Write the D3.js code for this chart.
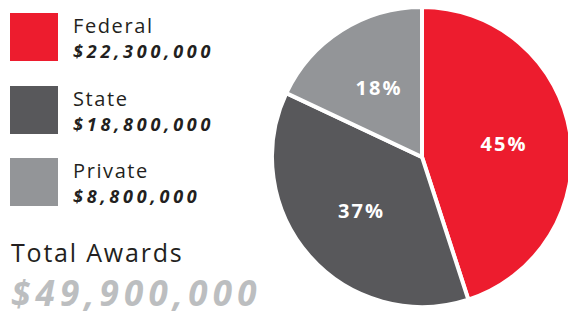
<!DOCTYPE html>
<html><head><meta charset="utf-8">
<script src="https://cdn.jsdelivr.net/npm/d3@7"></script>
<style>body{margin:0;background:#fff}svg{display:block}</style>
</head><body>
<script>
const categories = ["Federal", "State", "Private"];
const amountLabels = ["$22,300,000", "$18,800,000", "$8,800,000"];
const percents = [45, 37, 18];
const percentLabels = ["45%", "37%", "18%"];
const colors = ["#ED1C2E", "#58585B", "#939598"];
const totalTitle = "Total Awards";
const totalLabel = "$49,900,000";

const W = 568, H = 315;
const svg = d3.select("body").append("svg").attr("width", W).attr("height", H);
const font = "'Open Sans', sans-serif";

// Legend
const leg = svg.append("g");
const rowY = d3.scaleOrdinal().domain(categories).range([13, 86, 158]);
categories.forEach((c, i) => {
  const y = rowY(c);
  leg.append("rect").attr("x", 10).attr("y", y).attr("width", 48).attr("height", 48).attr("fill", colors[i]);
  leg.append("text").attr("x", 73).attr("y", y + 20).text(c)
    .attr("font-family", font).attr("font-size", 20).attr("letter-spacing", 1.6).attr("fill", "#231F20");
  leg.append("text").attr("x", 73).attr("y", y + 45).text(amountLabels[i])
    .attr("font-family", font).attr("font-size", 18).attr("font-weight", 700).attr("font-style", "italic")
    .attr("letter-spacing", 3.8).attr("fill", "#231F20");
});
svg.append("text").attr("x", 11).attr("y", 262).text(totalTitle)
  .attr("font-family", font).attr("font-size", 25).attr("letter-spacing", 1.8).attr("fill", "#231F20");
svg.append("text").attr("x", 11).attr("y", 306).text(totalLabel)
  .attr("font-family", font).attr("font-size", 35).attr("font-weight", 700).attr("font-style", "italic")
  .attr("letter-spacing", 5.2).attr("fill", "#BCBEC0");

// Pie
const cx = 422, cy = 157, R = 150;
const pie = d3.pie().sort(null).value(d => d);
const arcs = pie(percents);
const arc = d3.arc().innerRadius(0).outerRadius(R);
const labelArc = d3.arc().innerRadius(82).outerRadius(82);
const g = svg.append("g").attr("transform", `translate(${cx},${cy})`);
g.selectAll("path").data(arcs).join("path")
  .attr("d", arc).attr("fill", (d, i) => colors[i])
  .attr("stroke", "#fff").attr("stroke-width", 4).attr("stroke-linejoin", "miter");
g.selectAll("text").data(arcs).join("text")
  .attr("transform", d => `translate(${labelArc.centroid(d)})`)
  .attr("text-anchor", "middle").attr("dy", "0.36em").attr("dx", 1)
  .attr("font-family", font).attr("font-size", 20).attr("font-weight", 700)
  .attr("letter-spacing", 2)
  .attr("fill", "#fff").text((d, i) => percentLabels[i]);
</script>
</body></html>
